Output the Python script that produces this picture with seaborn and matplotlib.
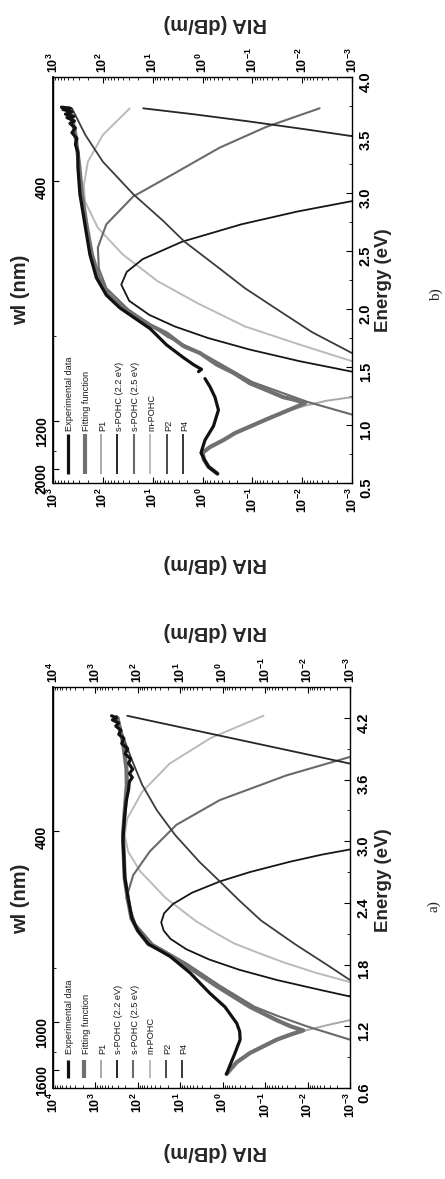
import numpy as np
import matplotlib
matplotlib.use("Agg")
import matplotlib.pyplot as plt
import seaborn as sns
from matplotlib.ticker import (LogLocator, FuncFormatter, NullFormatter,
                               MultipleLocator, FixedLocator)

sns.set_theme(style="white")
plt.rcParams["font.family"] = ["Liberation Sans", "DejaVu Sans"]
plt.rcParams["font.weight"] = "bold"
plt.rcParams["mathtext.fontset"] = "custom"
plt.rcParams["mathtext.rm"] = "Liberation Sans:bold"
plt.rcParams["mathtext.it"] = "Liberation Sans:bold"
plt.rcParams["mathtext.bf"] = "Liberation Sans:bold"

# ---------------- data (energy in eV, log10 of RIA in dB/m) ----------------
legend_names = ["Experimental data", "Fitting function", "P1", "s-POHC (2.2 eV)",
                "s-POHC (2.5 eV)", "m-POHC", "P2", "P4"]

# panel a
a_exp_E = [0.736, 0.85, 0.94, 1.07, 1.15, 1.23, 1.39, 1.52, 1.72, 1.88, 2.0, 2.13, 2.25,
           2.45, 2.65, 2.85, 3.0, 3.1, 3.25, 3.4, 3.5, 3.58, 3.62, 3.66, 3.7, 3.76, 3.8,
           3.85, 3.9, 3.95, 4.0, 4.04, 4.08, 4.12, 4.15, 4.18, 4.2, 4.22]
a_exp_L = [-0.09, -0.2, -0.29, -0.41, -0.40, -0.33, -0.05, 0.30, 0.77, 1.24, 1.75, 2.0, 2.14,
           2.23, 2.31, 2.33, 2.35, 2.34, 2.31, 2.27, 2.22, 2.2, 2.13, 2.2, 2.12, 2.22, 2.17,
           2.3, 2.24, 2.38, 2.33, 2.45, 2.4, 2.52, 2.45, 2.6, 2.5, 2.62]
a_fit_E = [0.736, 0.85, 0.94, 1.07, 1.12, 1.16, 1.2, 1.26, 1.39, 1.59, 1.81, 1.94, 2.0, 2.13,
           2.25, 2.42, 2.64, 2.84, 3.06, 3.29, 3.55, 3.71, 3.96, 4.2]
a_fit_L = [-0.09, -0.33, -0.64, -1.27, -1.6, -1.9, -1.6, -1.27, -0.64, 0.14, 0.93, 1.45, 1.75,
           2.0, 2.15, 2.23, 2.31, 2.33, 2.35, 2.31, 2.26, 2.27, 2.35, 2.48]
a_p1_E = [0.736, 0.85, 0.94, 1.07, 1.16, 1.21, 1.26]
a_p1_L = [-0.10, -0.34, -0.66, -1.32, -1.95, -2.45, -3.0]
a_s22_E = [1.49, 1.55, 1.65, 1.75, 1.85, 1.95, 2.05, 2.13, 2.21, 2.3, 2.39, 2.5, 2.61, 2.7,
           2.8, 2.87, 2.92]
a_s22_L = [-3.0, -2.34, -1.28, -0.39, 0.32, 0.86, 1.23, 1.39, 1.45, 1.38, 1.17, 0.72, 0.06,
           -0.64, -1.58, -2.34, -3.0]
a_s25_E = [1.07, 1.2, 1.3, 1.39, 1.59, 1.81, 2.0, 2.19, 2.45, 2.67, 2.9, 3.16, 3.4, 3.64, 3.82]
a_s25_L = [-3.0, -1.98, -1.3, -0.75, 0.05, 0.85, 1.65, 2.05, 2.27, 2.11, 1.72, 1.09, 0.07,
           -1.5, -3.0]
a_m_E = [1.63, 1.72, 1.82, 1.92, 2.01, 2.12, 2.22, 2.45, 2.71, 2.9, 3.06, 3.22, 3.48, 3.755,
         4.0, 4.22]
a_m_L = [-3.0, -2.2, -1.45, -0.8, -0.25, 0.22, 0.62, 1.35, 1.95, 2.23, 2.31, 2.25, 1.9, 1.25,
         0.3, -0.96]
a_p2_E = [1.65, 1.8, 2.0, 2.23, 2.42, 2.61, 2.8, 3.06, 3.3, 3.55, 3.8, 4.0, 4.22]
a_p2_L = [-3.0, -2.45, -1.7, -0.9, -0.4, 0.07, 0.55, 1.12, 1.55, 1.9, 2.15, 2.33, 2.5]
a_p4_E = [3.755, 3.85, 3.95, 4.05, 4.15, 4.22]
a_p4_L = [-3.0, -1.93, -0.8, 0.33, 1.46, 2.25]

# panel b
b_exp1_E = [0.58, 0.64, 0.70, 0.76, 0.87, 0.99, 1.13, 1.24, 1.33, 1.40]
b_exp1_L = [-0.30, -0.12, -0.04, 0.03, -0.05, -0.22, -0.32, -0.25, -0.15, -0.05]
b_exp2_E = [1.46, 1.48, 1.52, 1.58, 1.69, 1.83, 2.01, 2.12, 2.27, 2.47, 2.73, 2.99, 3.22,
            3.35, 3.42, 3.47, 3.52, 3.56, 3.60, 3.62, 3.65, 3.66, 3.68, 3.70, 3.72, 3.73, 3.74]
b_exp2_L = [0.08, 0.02, 0.18, 0.38, 0.72, 1.05, 1.66, 1.93, 2.13, 2.26, 2.36, 2.46, 2.5,
            2.5, 2.55, 2.52, 2.62, 2.55, 2.66, 2.57, 2.72, 2.58, 2.75, 2.62, 2.8, 2.65, 2.83]
b_fit_E = [0.58, 0.64, 0.70, 0.76, 0.81, 0.87, 0.93, 1.05, 1.12, 1.16, 1.19, 1.22, 1.24, 1.30,
           1.36, 1.45, 1.52, 1.62, 1.68, 1.79, 1.86, 2.01, 2.12, 2.27, 2.47, 2.73, 2.99, 3.22,
           3.5, 3.65, 3.73]
b_fit_L = [-0.30, -0.12, -0.03, 0.0, -0.15, -0.42, -0.65, -1.29, -1.68, -1.9, -2.06, -1.82,
           -1.62, -1.29, -0.95, -0.62, -0.29, 0.05, 0.38, 0.72, 1.05, 1.6, 1.88, 2.08, 2.22,
           2.33, 2.42, 2.47, 2.55, 2.62, 2.7]
b_p1_E = [0.58, 0.64, 0.70, 0.76, 0.81, 0.87, 0.93, 1.05, 1.12, 1.17, 1.21, 1.24]
b_p1_L = [-0.31, -0.13, -0.04, -0.01, -0.16, -0.44, -0.67, -1.33, -1.7, -2.09, -2.5, -3.0]
b_s22_E = [1.46, 1.55, 1.65, 1.75, 1.85, 1.95, 2.07, 2.21, 2.32, 2.43, 2.58, 2.73, 2.84, 2.93]
b_s22_L = [-3.0, -1.95, -0.95, -0.11, 0.56, 1.07, 1.47, 1.63, 1.52, 1.2, 0.41, -0.78, -1.9, -3.0]
b_s25_E = [1.09, 1.2, 1.37, 1.59, 1.76, 2.0, 2.18, 2.35, 2.53, 2.73, 2.97, 3.16, 3.39, 3.57, 3.73]
b_s25_L = [-3.0, -2.1, -1.0, -0.1, 0.7, 1.5, 1.93, 2.08, 2.1, 1.93, 1.39, 0.6, -0.34, -1.28, -2.35]
b_m_E = [1.55, 1.7, 1.85, 2.05, 2.24, 2.47, 2.7, 2.93, 3.07, 3.27, 3.5, 3.73]
b_m_L = [-3.0, -1.9, -0.85, 0.1, 0.9, 1.6, 2.1, 2.36, 2.38, 2.3, 2.0, 1.46]
b_p2_E = [1.62, 1.8, 2.01, 2.18, 2.35, 2.58, 2.76, 2.99, 3.27, 3.5, 3.73]
b_p2_L = [-3.0, -2.2, -1.45, -0.85, -0.34, 0.36, 0.79, 1.39, 2.0, 2.35, 2.62]
b_p4_E = [3.49, 3.55, 3.62, 3.68, 3.73]
b_p4_L = [-3.0, -2.05, -0.88, 0.2, 1.19]

a_energy_ticks = [0.6, 1.2, 1.8, 2.4, 3.0, 3.6, 4.2]
b_energy_ticks = [0.5, 1.0, 1.5, 2.0, 2.5, 3.0, 3.5, 4.0]
a_wl_major = [1600, 1000, 400]
a_wl_minor = [1300, 700]
b_wl_major = [2000, 1200, 400]
b_wl_minor = [1600, 700]

# ---------------- styling ----------------
styles = {
    "Experimental data": ("#111111", 2.3),
    "Fitting function": ("#707070", 3.0),
    "P1": ("#a8a8a8", 1.4),
    "s-POHC (2.2 eV)": ("#161616", 1.3),
    "s-POHC (2.5 eV)": ("#6a6a6a", 1.5),
    "m-POHC": ("#bababa", 1.4),
    "P2": ("#3c3c3c", 1.3),
    "P4": ("#262626", 1.3),
}

W, H = 445, 1179
fig = plt.figure(figsize=(W / 100, H / 100), dpi=100)


def box(l, t, r, b):
    return [l / W, 1 - b / H, (r - l) / W, (b - t) / H]


def ftext(x, y, s, **kw):
    fig.text(x / W, 1 - y / H, s, ha="center", va="center", **kw)


def curve(ax, E, L, name):
    c, lw = styles[name]
    sns.lineplot(x=10.0 ** np.asarray(L), y=np.asarray(E), ax=ax, color=c, lw=lw,
                 sort=False, estimator=None, orient="y", legend=False)


def e2wl(e):
    return 1239.84 / np.clip(np.asarray(e, dtype=float), 1e-3, None)


def setup(ax, xmin, xmax, elo, ehi, eticks, emin_step, wl_major, wl_minor):
    ax.set_xscale("log")
    ax.set_xlim(xmax, xmin)
    ax.set_ylim(elo, ehi)
    ax.set_xlabel("")
    ax.set_ylabel("")
    ax.xaxis.set_major_locator(LogLocator(base=10, numticks=30))
    ax.xaxis.set_minor_locator(LogLocator(base=10, subs=np.arange(2, 10), numticks=30))
    ax.xaxis.set_major_formatter(
        FuncFormatter(lambda v, p: f"$10^{{{int(round(np.log10(v)))}}}$"))
    ax.xaxis.set_minor_formatter(NullFormatter())
    ax.tick_params(axis="x", which="both", bottom=True, top=True, labelbottom=True,
                   labeltop=True, direction="in", labelrotation=90, labelsize=9, pad=3,
                   colors="black")
    ax.tick_params(axis="x", which="major", length=4, width=0.8)
    ax.tick_params(axis="x", which="minor", length=2, width=0.6)
    ax.yaxis.set_major_locator(FixedLocator(eticks))
    ax.yaxis.set_minor_locator(MultipleLocator(emin_step))
    ax.yaxis.set_major_formatter(FuncFormatter(lambda v, p: f"{v:.1f}"))
    ax.tick_params(axis="y", which="both", left=False, right=True, labelleft=False,
                   labelright=True, direction="in", labelrotation=90, labelsize=10.5,
                   pad=5, colors="black")
    ax.tick_params(axis="y", which="major", length=4, width=0.8)
    ax.tick_params(axis="y", which="minor", length=2, width=0.6)
    for sp in ax.spines.values():
        sp.set_visible(True)
        sp.set_color("black")
        sp.set_linewidth(1.0)
    sec = ax.secondary_yaxis("left", functions=(e2wl, e2wl))
    sec.yaxis.set_major_locator(FixedLocator(wl_major))
    sec.yaxis.set_minor_locator(FixedLocator(wl_minor))
    sec.yaxis.set_major_formatter(FuncFormatter(lambda v, p: f"{int(round(v))}"))
    sec.tick_params(axis="y", which="both", direction="in", labelrotation=90,
                    labelsize=10, pad=3, colors="black")
    sec.tick_params(axis="y", which="major", length=4, width=0.8)
    sec.tick_params(axis="y", which="minor", length=2, width=0.6)
    sec.spines["left"].set_color("black")
    ax.grid(False)


def legend(ax, x0, dx, y0, y1, yt):
    for i, name in enumerate(legend_names):
        c, lw = styles[name]
        x = x0 + i * dx
        ax.plot([x, x], [y0, y1], transform=ax.transAxes, color=c, lw=lw,
                solid_capstyle="butt")
        ax.text(x + 0.006, yt, name, transform=ax.transAxes, rotation=90, ha="center",
                va="bottom", fontsize=6.6, fontweight="normal", color="#1a1a1a")


ax_b = fig.add_axes(box(53, 77, 352, 483))
ax_a = fig.add_axes(box(53, 687, 350, 1088))

# panel a curves
curve(ax_a, a_p1_E, a_p1_L, "P1")
curve(ax_a, a_m_E, a_m_L, "m-POHC")
curve(ax_a, a_s25_E, a_s25_L, "s-POHC (2.5 eV)")
curve(ax_a, a_s22_E, a_s22_L, "s-POHC (2.2 eV)")
curve(ax_a, a_p2_E, a_p2_L, "P2")
curve(ax_a, a_p4_E, a_p4_L, "P4")
curve(ax_a, a_fit_E, a_fit_L, "Fitting function")
curve(ax_a, a_exp_E, a_exp_L, "Experimental data")

# panel b curves
curve(ax_b, b_p1_E, b_p1_L, "P1")
curve(ax_b, b_m_E, b_m_L, "m-POHC")
curve(ax_b, b_s25_E, b_s25_L, "s-POHC (2.5 eV)")
curve(ax_b, b_s22_E, b_s22_L, "s-POHC (2.2 eV)")
curve(ax_b, b_p2_E, b_p2_L, "P2")
curve(ax_b, b_p4_E, b_p4_L, "P4")
curve(ax_b, b_fit_E, b_fit_L, "Fitting function")
curve(ax_b, b_exp1_E, b_exp1_L, "Experimental data")
curve(ax_b, b_exp2_E, b_exp2_L, "Experimental data")

setup(ax_a, 1e-3, 1e4, 0.6, 4.5, a_energy_ticks, 0.3, a_wl_major, a_wl_minor)
setup(ax_b, 1e-3, 1e3, 0.5, 4.0, b_energy_ticks, 0.25, b_wl_major, b_wl_minor)

legend(ax_a, 0.0505, 0.0549, 0.025, 0.07, 0.085)
legend(ax_b, 0.0505, 0.0549, 0.022, 0.12, 0.128)

# axis titles (rotated figure)
ria = dict(fontsize=14.5, fontweight="bold")
wl = dict(fontsize=14.5, fontweight="bold")
en = dict(fontsize=13.5, fontweight="bold")
serif = dict(fontsize=11, fontweight="normal", family=["Liberation Serif", "DejaVu Serif"])

ftext(215, 24, "RIA (dB/m)", rotation=180, **ria)
ftext(215, 563, "RIA (dB/m)", rotation=180, **ria)
ftext(21, 290, "wl (nm)", rotation=90, **wl)
ftext(383, 280, "Energy (eV)", rotation=90, **en)
ftext(436, 295, "b)", rotation=90, **serif)

ftext(215, 632, "RIA (dB/m)", rotation=180, **ria)
ftext(215, 1152, "RIA (dB/m)", rotation=180, **ria)
ftext(21, 899, "wl (nm)", rotation=90, **wl)
ftext(383, 880, "Energy (eV)", rotation=90, **en)
ftext(434, 906, "a)", rotation=90, **serif)

fig.savefig("out.png", dpi=100, facecolor="white")
